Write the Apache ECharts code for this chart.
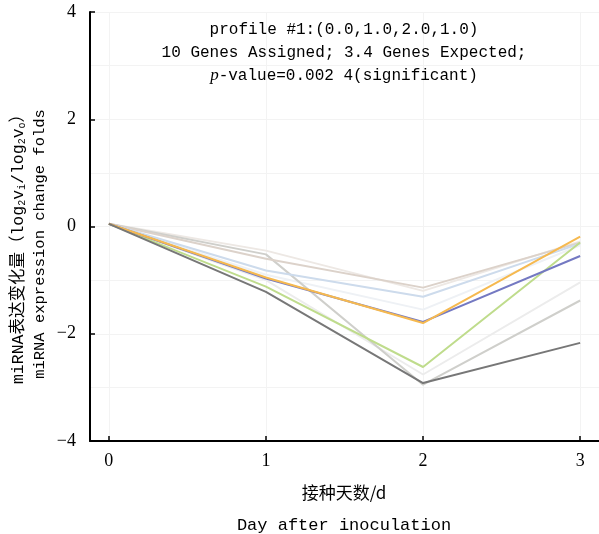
<!DOCTYPE html>
<html><head><meta charset="utf-8">
<script src="https://cdn.jsdelivr.net/npm/echarts@6/dist/echarts.min.js"></script>
<style>html,body{margin:0;padding:0;background:#fff}#c{width:599px;height:534px}</style>
</head><body><div id="c"></div>
<script>
const days = [0, 1, 2, 3];
const xTickValues = [0, 1, 2, 3];
const yTickValues = [-4, -2, 0, 2, 4];
const gene1 = [0.05, -1.22, -2.92, -2.17];
const gene2 = [0.05, -0.95, -1.80, -0.19];
const gene3 = [0.05, -0.97, -1.78, -0.55];
const gene4 = [0.05, -1.12, -2.62, -0.30];
const gene5 = [0.05, -0.82, -1.31, -0.32];
const gene6 = [0.05, -0.60, -1.14, -0.30];
const gene7 = [0.05, -0.52, -2.95, -1.38];
const gene8 = [0.05, -1.00, -2.76, -1.04];
const gene9 = [0.05, -0.45, -1.20, -0.28];
const gene10 = [0.05, -0.90, -1.55, -0.35];

const genes = [gene10, gene9, gene8, gene7, gene6, gene5, gene4, gene3, gene2, gene1];
const colors = ['#eef1f5', '#ede8e4', '#ececec', '#cfcfcb', '#dcd2ca', '#cddbec', '#bfdc8c', '#7479c2', '#f6b94f', '#777777'];

const chart = echarts.init(document.getElementById('c'));
const mono = '"Liberation Mono", "Noto Sans CJK SC", monospace';
const serif = '"Liberation Serif", "Noto Sans CJK SC", serif';
chart.setOption({
  animation: false,
  grid: {left: 90, right: 0, top: 12, bottom: 93},
  xAxis: {
    type: 'value', min: -0.12, max: 3.12,
    axisLine: {show: true, onZero: false, lineStyle: {color: '#000', width: 2}},
    axisTick: {show: true, inside: true, length: 5, customValues: xTickValues, lineStyle: {color: '#000', width: 1.5}},
    axisLabel: {customValues: xTickValues, color: '#000', fontFamily: serif, fontSize: 18, margin: 11},
    splitLine: {show: true, lineStyle: {color: '#f3f3f3', width: 1}}
  },
  yAxis: {
    type: 'value', min: -4, max: 4, interval: 2,
    axisLine: {show: true, onZero: false, lineStyle: {color: '#000', width: 2}},
    axisTick: {show: true, inside: true, length: 5, lineStyle: {color: '#000', width: 1.5}},
    axisLabel: {color: '#000', fontFamily: serif, fontSize: 18, margin: 14,
      formatter: v => String(v).replace('-', '\u2212')},
    splitLine: {show: true, lineStyle: {color: '#f3f3f3'}},
    minorTick: {show: false, splitNumber: 2},
    minorSplitLine: {show: true, lineStyle: {color: '#f3f3f3'}}
  },
  series: genes.map((g, i) => ({
    type: 'line', showSymbol: false, symbol: 'none',
    data: days.map((d, j) => [d, g[j]]),
    lineStyle: {color: colors[i], width: 2},
    itemStyle: {color: colors[i]}, z: 2 + i
  })),
  graphic: [
    {type: 'text', x: 344, y: 30, z: 100, style: {text: 'profile #1:(0.0,1.0,2.0,1.0)', font: '16px ' + mono, fill: '#000', align: 'center', verticalAlign: 'middle'}},
    {type: 'text', x: 344, y: 53, z: 100, style: {text: '10 Genes Assigned; 3.4 Genes Expected;', font: '16px ' + mono, fill: '#000', align: 'center', verticalAlign: 'middle'}},
    {type: 'text', x: 344, y: 76, z: 100, style: {
      text: '{i|p}-value=0.002 4(significant)', align: 'center', verticalAlign: 'middle',
      font: '16px ' + mono, fill: '#000',
      rich: {i: {fontStyle: 'italic', fontFamily: serif, fontSize: 17, fill: '#000'}}
    }},
    {type: 'text', x: 19, y: 245, rotation: Math.PI / 2, style: {
      text: 'miRNA表达变化量（log{s|2}v{s|i}/log{s|2}v{s|o}）', align: 'center', verticalAlign: 'middle',
      font: '16.5px ' + mono, fill: '#000',
      rich: {s: {fontSize: 10, fontFamily: mono, verticalAlign: 'bottom', padding: [7, 0, 0, 0]}}
    }},
    {type: 'text', x: 40, y: 244, rotation: Math.PI / 2, style: {
      text: 'miRNA expression change folds', align: 'center', verticalAlign: 'middle',
      font: '15.5px ' + mono, fill: '#000'
    }},
    {type: 'text', x: 344, y: 493, style: {text: '接种天数/d', font: '17px "Noto Sans CJK SC", ' + mono, fill: '#000', align: 'center', verticalAlign: 'middle'}},
    {type: 'text', x: 344, y: 525, style: {text: 'Day after inoculation', font: '17px ' + mono, fill: '#000', align: 'center', verticalAlign: 'middle'}}
  ]
});
</script></body></html>
